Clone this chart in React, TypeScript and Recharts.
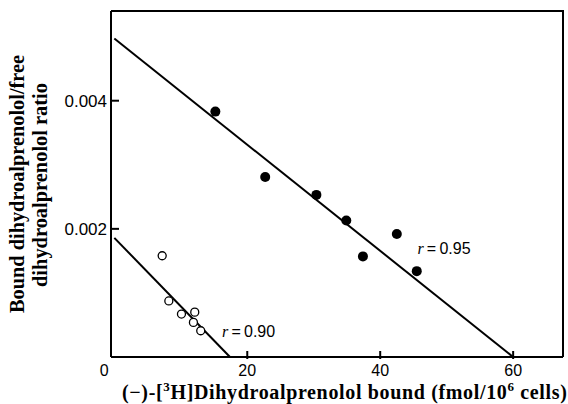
import React from "react"
import { ComposedChart, Line, Scatter, XAxis, YAxis } from "recharts"

// filled circles (r = 0.95)
const filledX = [15.2, 22.7, 30.4, 34.9, 37.4, 42.5, 45.5]
const filledY = [0.00383, 0.00281, 0.00253, 0.00213, 0.00157, 0.00192, 0.00134]

// open circles (r = 0.90)
const openX = [7.2, 8.2, 10.1, 12.1, 11.9, 13.0]
const openY = [0.00158, 0.000875, 0.00067, 0.0007, 0.00054, 0.00041]

// regression line end points
const filledFitX = [0, 60]
const filledFitY = [0.00497, 0]
const openFitX = [0, 17.4]
const openFitY = [0.00186, 0]

const xTicks = [0, 20, 40, 60]
const yTicks = [0.002, 0.004]
const xDomain = [-0.5, 67.5]
const yDomain = [0, 0.0054]

const filled = filledX.map((x, i) => ({ x, y: filledY[i] }))
const open = openX.map((x, i) => ({ x, y: openY[i] }))
const filledFit = filledFitX.map((x, i) => ({ x, y: filledFitY[i] }))
const openFit = openFitX.map((x, i) => ({ x, y: openFitY[i] }))
const rLabels = [
  { x: 45.6, y: 0.0017, text: "0.95" },
  { x: 16.2, y: 0.0004, text: "0.90" },
]

const W = 568
const H = 404
const margin = { top: 11, right: 5, bottom: 0, left: 0 }
const yAxisW = 111
const xAxisH = 47

const sans = "'Liberation Sans', Arial, sans-serif"
const serif = "'Liberation Serif', 'Times New Roman', serif"

const XTick = (props: any) => {
  const { x, y, payload } = props
  const v = payload.value
  return (
    <g>
      {v !== 0 && <line x1={x} x2={x} y1={y} y2={y - 8} stroke="#000" strokeWidth={2} />}
      <text x={v === 0 ? x - 10 : x} y={y + 17} textAnchor="middle" fontFamily={sans} fontSize={16} fill="#000">
        {v}
      </text>
    </g>
  )
}

const YTick = (props: any) => {
  const { x, y, payload } = props
  return (
    <g>
      <line x1={x + 4} x2={x + 12} y1={y} y2={y} stroke="#000" strokeWidth={2} />
      <text x={x} y={y + 6} textAnchor="end" fontFamily={sans} fontSize={17} fill="#000">
        {payload.value.toFixed(3)}
      </text>
    </g>
  )
}

const RText = (props: any) => {
  const { cx, cy, payload } = props
  return (
    <text x={cx} y={cy + 6} fontFamily={sans} fontSize={16} fill="#000">
      <tspan fontFamily={serif} fontStyle="italic">r</tspan>
      {"\u2009=\u2009" + payload.text}
    </text>
  )
}

const YLabel = () => (
  <g fontFamily={serif} fontSize={20} fontWeight="bold" fill="#000">
    <text x={24} y={184} textAnchor="middle" transform="rotate(-90 24 184)" textLength={258} lengthAdjust="spacingAndGlyphs">
      Bound dihydroalprenolol/free
    </text>
    <text x={47} y={185} textAnchor="middle" transform="rotate(-90 47 185)" textLength={204} lengthAdjust="spacingAndGlyphs">
      dihydroalprenolol ratio
    </text>
  </g>
)

const XLabel = () => (
  <text x={122} y={399} fontFamily={serif} fontSize={20} letterSpacing={0.65} fontWeight="bold" fill="#000">
    (−)-[<tspan fontSize={13} dy={-8}>3</tspan>
    <tspan dy={8}>H]Dihydroalprenolol bound (fmol/10</tspan>
    <tspan fontSize={13} dy={-8}>6</tspan>
    <tspan dy={8}> cells)</tspan>
  </text>
)

const frame = { stroke: "#000", strokeWidth: 2 }

export default function App() {
  return (
    <div style={{ position: "fixed", left: 0, top: 0, width: W, height: H, background: "#fff" }}>
      <ComposedChart width={W} height={H} margin={margin}>
        <XAxis
          type="number"
          dataKey="x"
          domain={xDomain}
          ticks={xTicks}
          tick={<XTick />}
          tickLine={false}
          tickSize={0}
          height={xAxisH}
          axisLine={frame}
          label={<XLabel />}
        />
        <YAxis
          type="number"
          dataKey="y"
          domain={yDomain}
          ticks={yTicks}
          tick={<YTick />}
          tickLine={false}
          tickSize={0}
          tickMargin={4}
          width={yAxisW}
          axisLine={frame}
          label={<YLabel />}
        />
        <Line data={filledFit} dataKey="y" type="linear" stroke="#000" strokeWidth={2} dot={false} isAnimationActive={false} />
        <Line data={openFit} dataKey="y" type="linear" stroke="#000" strokeWidth={2} dot={false} isAnimationActive={false} />
        <Scatter
          data={filled}
          dataKey="y"
          isAnimationActive={false}
          shape={(p: any) => <circle cx={p.cx} cy={p.cy} r={5} fill="#000" />}
        />
        <Scatter
          data={open}
          dataKey="y"
          isAnimationActive={false}
          shape={(p: any) => <circle cx={p.cx} cy={p.cy} r={4} fill="#fff" stroke="#000" strokeWidth={1.3} />}
        />
        <Scatter data={rLabels} dataKey="y" isAnimationActive={false} shape={<RText />} />
      </ComposedChart>
      {/* top and right edges of the plot box */}
      <div
        style={{
          position: "absolute",
          left: margin.left + yAxisW,
          top: margin.top - 1,
          width: W - margin.left - margin.right - yAxisW + 1,
          height: H - margin.top - margin.bottom - xAxisH + 1,
          borderTop: "2px solid #000",
          borderRight: "2px solid #000",
          boxSizing: "border-box",
          pointerEvents: "none",
        }}
      />
    </div>
  )
}
